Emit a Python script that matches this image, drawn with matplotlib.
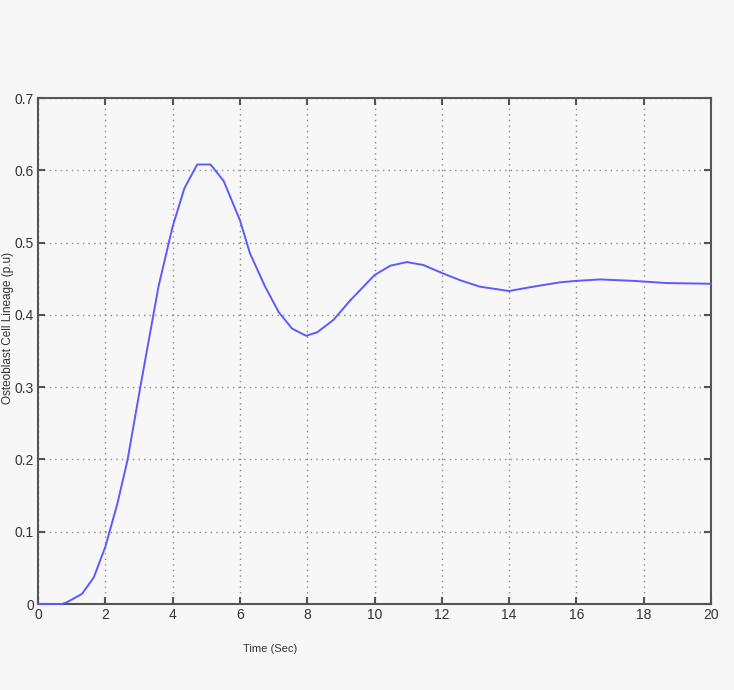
import matplotlib
matplotlib.use("Agg")
import matplotlib.pyplot as plt

# Step response
time_s = [0.0, 0.72, 0.84, 1.31, 1.66, 2.0, 2.36, 2.66, 3.04, 3.58, 4.0, 4.35,
          4.73, 5.13, 5.52, 6.0, 6.3, 6.75, 7.15, 7.55, 7.97, 8.3, 8.78, 9.28,
          10.0, 10.47, 10.96, 11.45, 12.0, 12.54, 13.13, 14.0, 14.72, 15.51,
          16.0, 16.7, 17.7, 18.68, 20.0]
lineage = [0.0, 0.0, 0.002, 0.014, 0.037, 0.079, 0.139, 0.199, 0.30, 0.439,
           0.522, 0.575, 0.608, 0.608, 0.585, 0.531, 0.485, 0.439, 0.404,
           0.381, 0.371, 0.376, 0.393, 0.420, 0.455, 0.468, 0.473, 0.469,
           0.458, 0.448, 0.439, 0.433, 0.439, 0.445, 0.447, 0.449, 0.447,
           0.444, 0.443]

x_ticks = [0, 2, 4, 6, 8, 10, 12, 14, 16, 18, 20]
y_ticks = [0, 0.1, 0.2, 0.3, 0.4, 0.5, 0.6, 0.7]
y_tick_labels = ["0", "0.1", "0.2", "0.3", "0.4", "0.5", "0.6", "0.7"]

bg = "#f7f7f7"
frame = "#555555"
plt.rcParams["font.family"] = ["Liberation Sans", "DejaVu Sans"]

fig = plt.figure(figsize=(7.34, 6.90), dpi=100, facecolor=bg)
ax = fig.add_axes([38 / 734, 1 - 604 / 690, 673 / 734, 506 / 690])
ax.set_facecolor(bg)

ax.plot(time_s, lineage, color="#5b5bff", linewidth=1.4, clip_on=False, zorder=5)

ax.set_xlim(0, 20)
ax.set_ylim(0, 0.7)
ax.set_xticks(x_ticks)
ax.set_yticks(y_ticks)
ax.set_yticklabels(y_tick_labels)
ax.grid(True, color="#8a8a8a", linestyle=(0, (1, 3)), linewidth=1)
ax.tick_params(direction="in", length=5, width=1.5, color=frame,
               labelsize=10, labelcolor="#333333", top=True, right=True, pad=3)
for s in ax.spines.values():
    s.set_color(frame)
    s.set_linewidth(1.5)

ax.set_xlabel("Time (Sec)", fontsize=8, color="#333333")
ax.xaxis.set_label_coords(0.345, -0.08)
ax.set_ylabel("Osteoblast Cell Lineage (p.u)", fontsize=8.5, color="#333333")
ax.yaxis.set_label_coords(-0.036, 0.545)

fig.savefig("out.png", dpi=100, facecolor=bg)
